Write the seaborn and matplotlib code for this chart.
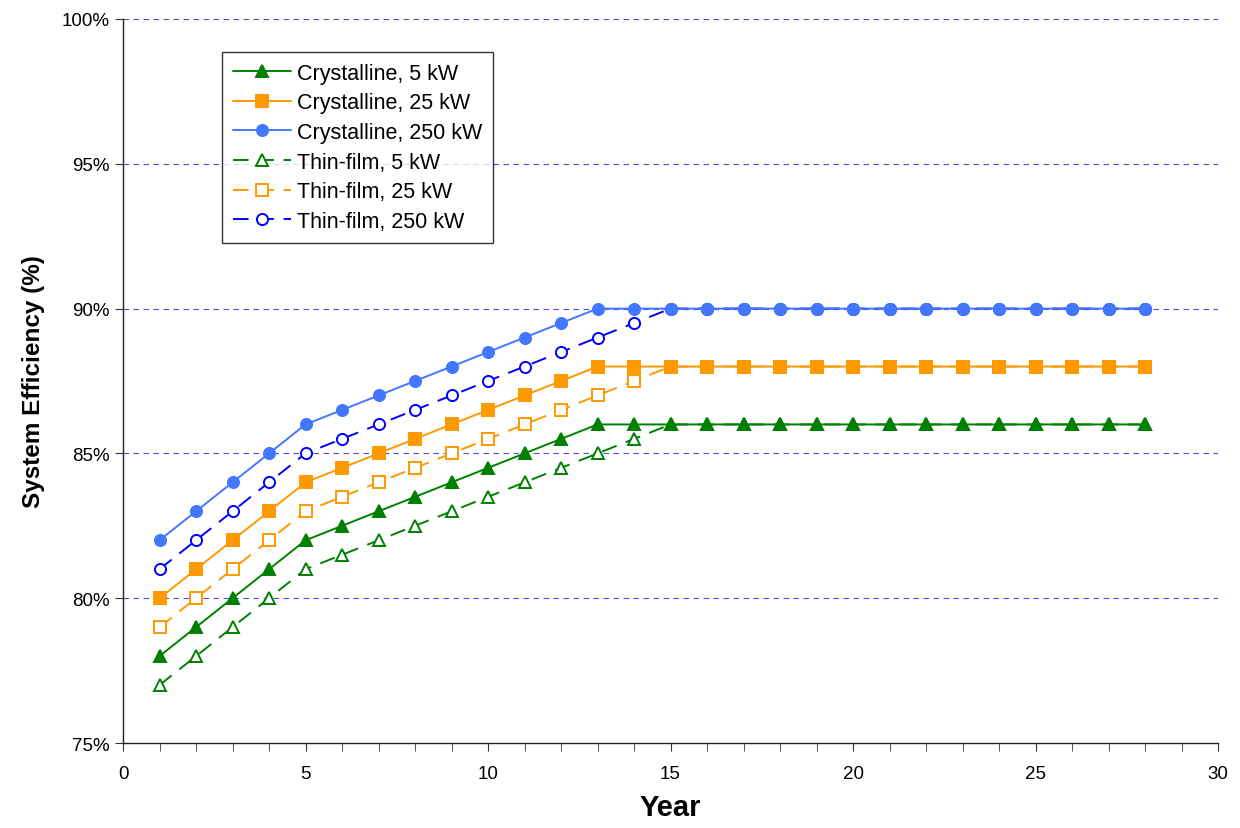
import numpy as np
import pandas as pd
import matplotlib
matplotlib.use("Agg")
import matplotlib.pyplot as plt
from matplotlib.ticker import PercentFormatter, MultipleLocator
import seaborn as sns

# years 1..28
years = list(range(1, 29))

# ramp values up to the plateau, then flat
cryst_5 = [78, 79, 80, 81, 82, 82.5, 83, 83.5, 84, 84.5, 85, 85.5, 86] + [86] * 15
cryst_25 = [80, 81, 82, 83, 84, 84.5, 85, 85.5, 86, 86.5, 87, 87.5, 88] + [88] * 15
cryst_250 = [82, 83, 84, 85, 86, 86.5, 87, 87.5, 88, 88.5, 89, 89.5, 90] + [90] * 15
thin_5 = [77, 78, 79, 80, 81, 81.5, 82, 82.5, 83, 83.5, 84, 84.5, 85, 85.5, 86] + [86] * 13
thin_25 = [79, 80, 81, 82, 83, 83.5, 84, 84.5, 85, 85.5, 86, 86.5, 87, 87.5, 88] + [88] * 13
thin_250 = [81, 82, 83, 84, 85, 85.5, 86, 86.5, 87, 87.5, 88, 88.5, 89, 89.5, 90] + [90] * 13

labels = ["Crystalline, 5 kW", "Crystalline, 25 kW", "Crystalline, 250 kW",
          "Thin-film, 5 kW", "Thin-film, 25 kW", "Thin-film, 250 kW"]
values = [cryst_5, cryst_25, cryst_250, thin_5, thin_25, thin_250]

sns.set_style("ticks")
plt.rcParams['font.family'] = ['Liberation Sans', 'DejaVu Sans']
plt.rcParams['text.color'] = 'black'
plt.rcParams['axes.labelcolor'] = 'black'
plt.rcParams['xtick.color'] = 'black'
plt.rcParams['ytick.color'] = 'black'

# colour, marker, filled?, linestyle, zorder (crystalline drawn on top)
dash = (0, (8, 5))
styles = [
    ("#008000", "^", True, "-", 4),
    ("#ff9900", "s", True, "-", 4),
    ("#4477ff", "o", True, "-", 4),
    ("#008000", "^", False, dash, 3),
    ("#ff9900", "s", False, dash, 3),
    ("#0000ff", "o", False, dash, 3),
]

fig = plt.figure(figsize=(12.4, 8.29), dpi=100)
ax = fig.add_axes([0.0992, 0.1025, 0.8831, 0.8734])

for y in [80, 85, 90, 95, 100]:
    ax.axhline(y, color="#4a4aee", lw=0.8, ls=(0, (5, 4)), zorder=0)

for lab, vals, (col, mk, filled, ls, z) in zip(labels, values, styles):
    df = pd.DataFrame({"Year": years, "Eff": vals})
    sns.lineplot(data=df, x="Year", y="Eff", ax=ax, color=col, linestyle=ls,
                 lw=1.4, marker=mk, markersize=8.5 if mk == "^" else 8,
                 markerfacecolor=col if filled else "white",
                 markeredgecolor=col, markeredgewidth=1.4, label=lab, zorder=z)

ax.set_xlim(0, 30)
ax.set_ylim(75, 100)
ax.xaxis.set_major_locator(MultipleLocator(5))
ax.xaxis.set_minor_locator(MultipleLocator(1))
ax.yaxis.set_major_locator(MultipleLocator(5))
ax.yaxis.set_major_formatter(PercentFormatter(decimals=0))
ax.tick_params(axis="both", which="major", labelsize=13.5, length=6, direction="out", color="#333333")
ax.tick_params(axis="x", which="minor", length=6, direction="out", color="#333333")
ax.tick_params(axis="x", pad=10)

for s in ["top", "right"]:
    ax.spines[s].set_visible(False)
for s in ["left", "bottom"]:
    ax.spines[s].set_color("#222222")
    ax.spines[s].set_linewidth(1.0)

ax.set_xlabel("Year", fontsize=21, fontweight="bold", labelpad=8)
ax.set_ylabel("System Efficiency (%)", fontsize=17.5, fontweight="bold", labelpad=12)

leg = ax.legend(loc="upper left", bbox_to_anchor=(0.0904, 0.9544), borderaxespad=0,
                fontsize=15.5, frameon=True, fancybox=False, edgecolor="black",
                handlelength=2.7, labelspacing=0.4, borderpad=0.5, handletextpad=0.3)
leg.get_frame().set_linewidth(1.0)

fig.savefig("out.png", dpi=100)
